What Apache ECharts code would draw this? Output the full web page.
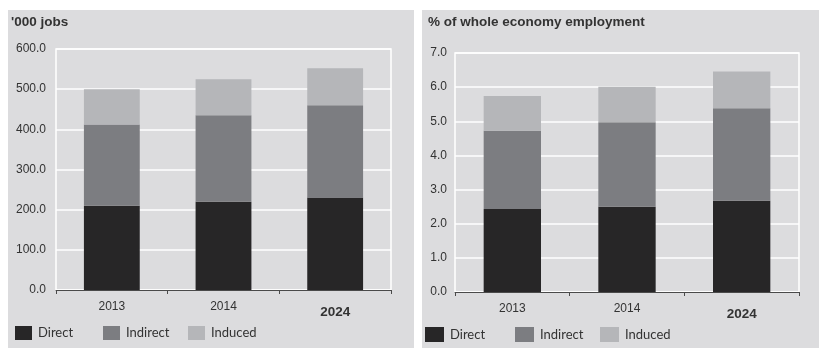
<!DOCTYPE html>
<html>
<head>
<meta charset="utf-8">
<script src="https://cdn.jsdelivr.net/npm/echarts@6/dist/echarts.min.js"></script>
<style>
  html, body { margin: 0; padding: 0; background: #ffffff; }
  #chart { width: 819px; height: 348px; }
</style>
</head>
<body>
<div id="chart"></div>
<script>
// Years shown on both panels
const years = ['2013', '2014', '2024'];

// Employment supported, thousands of jobs
const jobsDirect   = [210, 220, 230];
const jobsIndirect = [202, 215, 230];
const jobsInduced  = [88, 90, 92];

// Share of whole economy employment, %
const shareDirect   = [2.43, 2.50, 2.67];
const shareIndirect = [2.29, 2.47, 2.71];
const shareInduced  = [1.02, 1.04, 1.08];

const jobsTicks = { min: 0, max: 600, interval: 100 };
const shareTicks = { min: 0, max: 7, interval: 1 };

const seriesNames = ['Direct', 'Indirect', 'Induced'];
const seriesColors = ['#272627', '#7c7d81', '#b5b6b9'];

const panelBg = '#dcdcde';
const textColor = '#333333';
const axisFont = 'Liberation Sans, Arial, sans-serif';
const legendFont = 'Lato, sans-serif';

const chart = echarts.init(document.getElementById('chart'), null, { renderer: 'canvas' });

function xAxisFor(gridIndex) {
  return {
    type: 'category',
    gridIndex: gridIndex,
    data: years,
    boundaryGap: true,
    axisLine: { show: true, lineStyle: { color: '#4a4a4a', width: 1 } },
    axisTick: { show: true, length: 4, lineStyle: { color: '#4a4a4a' } },
    splitLine: { show: false },
    axisLabel: {
      margin: 11,
      color: textColor,
      fontFamily: axisFont,
      fontSize: 12,
      formatter: v => v === '2024' ? '{b|' + v + '}' : v,
      rich: {
        b: { fontFamily: axisFont, fontSize: 13.5, fontWeight: 'bold', color: textColor, padding: [4, 0, 0, 0] }
      }
    }
  };
}

function yAxisFor(gridIndex, ticks, margin) {
  return {
    type: 'value',
    gridIndex: gridIndex,
    min: ticks.min,
    max: ticks.max,
    interval: ticks.interval,
    axisLine: { show: false },
    axisTick: { show: false },
    splitLine: { show: true, lineStyle: { color: '#ffffff', width: 1.5 } },
    axisLabel: {
      margin: margin,
      color: textColor,
      fontFamily: axisFont,
      fontSize: 12,
      formatter: v => v.toFixed(1)
    }
  };
}

function barSeries(name, data, color, axisIndex) {
  return {
    name: name,
    type: 'bar',
    stack: 'stack' + axisIndex,
    xAxisIndex: axisIndex,
    yAxisIndex: axisIndex,
    barWidth: '50%',
    data: data,
    itemStyle: { color: color },
    emphasis: { disabled: true }
  };
}

// One legend per item so every swatch sits at its own spot
const legendSpots = [
  [15, 103, 188],
  [425, 515, 600]
];
const legends = [];
legendSpots.forEach((row, r) => {
  row.forEach((x, i) => {
    legends.push({
      data: [seriesNames[i]],
      left: x,
      top: r === 0 ? 326 : 327,
      itemWidth: r === 0 ? 17 : 19,
      itemHeight: r === 0 ? 14 : 15,
      itemGap: 0,
      padding: 0,
      selectedMode: false,
      icon: 'rect',
      textStyle: { fontFamily: legendFont, fontSize: 13, color: textColor, padding: [2, 0, 0, 1] }
    });
  });
});

chart.setOption({
  animation: false,
  backgroundColor: '#ffffff',
  graphic: [
    { type: 'rect', z: -10, shape: { x: 8, y: 10, width: 406, height: 338 }, style: { fill: panelBg } },
    { type: 'rect', z: -10, shape: { x: 422, y: 10, width: 397, height: 338 }, style: { fill: panelBg } }
  ],
  title: [
    {
      text: "'000 jobs", left: 11, top: 15, padding: 0,
      textStyle: { fontFamily: axisFont, fontSize: 13.5, fontWeight: 'bold', color: textColor }
    },
    {
      text: '% of whole economy employment', left: 428, top: 15, padding: 0,
      textStyle: { fontFamily: axisFont, fontSize: 13.5, fontWeight: 'bold', color: textColor }
    }
  ],
  legend: legends,
  grid: [
    { left: 56, right: 428, top: 49, bottom: 58, show: true, borderColor: '#ffffff', borderWidth: 1.5, backgroundColor: 'transparent' },
    { left: 455, right: 20, top: 53, bottom: 56, show: true, borderColor: '#ffffff', borderWidth: 1.5, backgroundColor: 'transparent' }
  ],
  xAxis: [xAxisFor(0), xAxisFor(1)],
  yAxis: [yAxisFor(0, jobsTicks, 10), yAxisFor(1, shareTicks, 8)],
  series: [
    barSeries('Direct', jobsDirect, seriesColors[0], 0),
    barSeries('Indirect', jobsIndirect, seriesColors[1], 0),
    barSeries('Induced', jobsInduced, seriesColors[2], 0),
    barSeries('Direct', shareDirect, seriesColors[0], 1),
    barSeries('Indirect', shareIndirect, seriesColors[1], 1),
    barSeries('Induced', shareInduced, seriesColors[2], 1)
  ]
});
</script>
</body>
</html>
